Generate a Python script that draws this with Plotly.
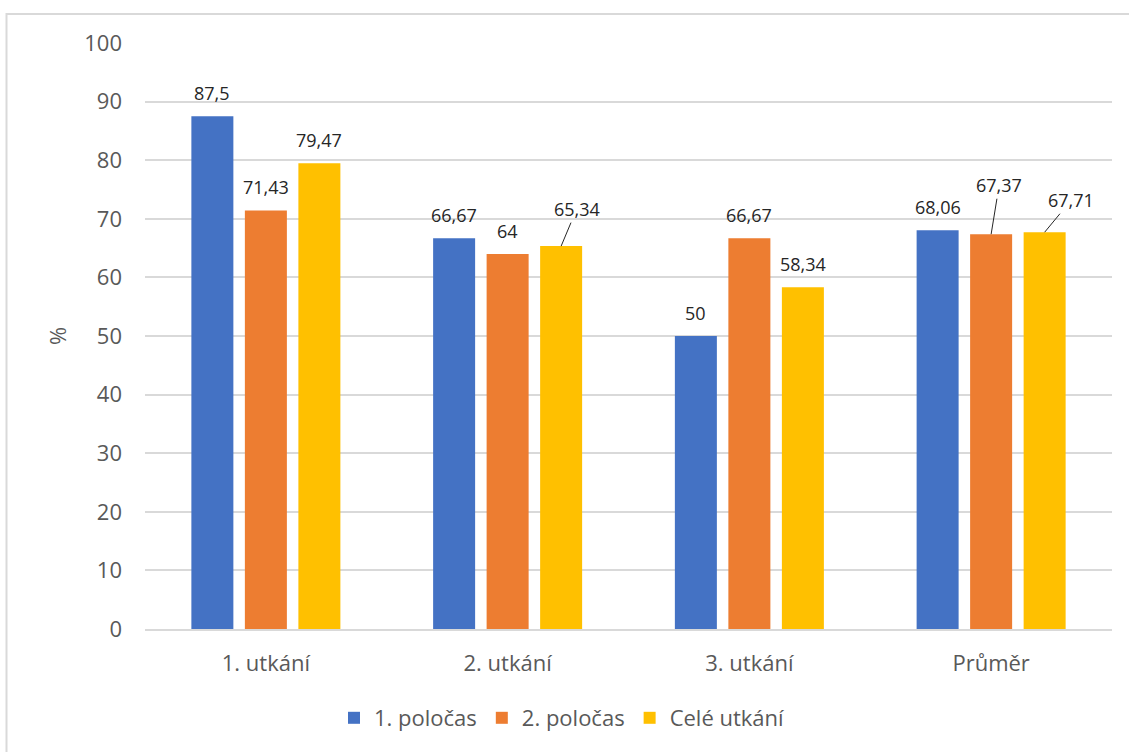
import plotly.graph_objects as go

# Match results (%), per half and whole match
categories = ["1. utkání", "2. utkání", "3. utkání", "Průměr"]
series_names = ["1. poločas", "2. poločas", "Celé utkání"]
first_half = [87.5, 66.67, 50, 68.06]
second_half = [71.43, 64, 66.67, 67.37]
whole_match = [79.47, 65.34, 58.34, 67.71]
y_ticks = [0, 10, 20, 30, 40, 50, 60, 70, 80, 90, 100]

colors = ["#4472C4", "#ED7D31", "#FFC000"]
series_values = [first_half, second_half, whole_match]

FONT = "Open Sans"
GRAY = "#595959"

# layout geometry (pixels)
W, H = 1129, 752
M_L, M_R, M_T, M_B = 145, 17, 43, 123
plot_w = W - M_L - M_R
plot_h = H - M_T - M_B
slot_px = 53.5          # distance between bar centres within a group

# labels moved off their bar and tied back with a leader line: (series, category) -> (dx, dy) px
leader_offsets = {
    (2, 1): (15.5, -37),
    (1, 3): (8, -49),
    (2, 3): (26.5, -32),
}


def fmt(v):
    return f"{v:g}".replace(".", ",")


fig = go.Figure()
for name, vals, col in zip(series_names, series_values, colors):
    fig.add_trace(go.Bar(
        name=name, x=categories, y=vals,
        marker=dict(color=col, line=dict(width=0)),
        hoverinfo="x+y",
    ))

annotations = []
for si, vals in enumerate(series_values):
    xshift = (si - 1) * slot_px
    for ci, v in enumerate(vals):
        if (si, ci) in leader_offsets:
            dx, dy = leader_offsets[(si, ci)]
            annotations.append(dict(
                x=categories[ci], y=v, xref="x", yref="y", xshift=xshift,
                text=fmt(v), showarrow=True, arrowhead=0, arrowwidth=1,
                arrowcolor="#262626", ax=dx, ay=dy, standoff=0, startstandoff=0,
                font=dict(family=FONT, size=18, color="#262626"),
            ))
        else:
            annotations.append(dict(
                x=categories[ci], y=v, xref="x", yref="y", xshift=xshift, yshift=23,
                text=fmt(v), showarrow=False, xanchor="center", yanchor="middle",
                font=dict(family=FONT, size=18, color="#262626"),
            ))

# chart border
px_x = lambda p: (p - M_L) / plot_w
px_y = lambda p: (H - M_B - p) / plot_h
shapes = [dict(
    type="rect", xref="paper", yref="paper",
    x0=px_x(6.5), x1=px_x(1140), y0=px_y(765), y1=px_y(14),
    line=dict(color="#D9D9D9", width=2), fillcolor="rgba(0,0,0,0)", layer="below",
)]

fig.update_layout(
    width=W, height=H,
    margin=dict(l=M_L, r=M_R, t=M_T, b=M_B, autoexpand=False),
    paper_bgcolor="white", plot_bgcolor="white",
    barmode="group", bargap=0.336, bargroupgap=0.215,
    font=dict(family=FONT, color=GRAY),
    showlegend=True,
    legend=dict(
        orientation="h", x=px_x(562), xanchor="center",
        y=px_y(718), yanchor="middle",
        font=dict(family=FONT, size=22, color=GRAY),
        itemwidth=30, tracegroupgap=0,
        bgcolor="rgba(0,0,0,0)",
    ),
    annotations=annotations,
    shapes=shapes,
)
fig.update_xaxes(
    type="category", showgrid=False, showline=True, linecolor="#D9D9D9", linewidth=1.5,
    ticks="", tickfont=dict(family=FONT, size=22, color=GRAY), ticklabelstandoff=14,
)
fig.update_yaxes(
    range=[0, 100], tickvals=y_ticks, showgrid=True, gridcolor="#D9D9D9", gridwidth=1.5,
    zeroline=False, showline=False, ticks="",
    tickfont=dict(family=FONT, size=22, color=GRAY), ticklabelstandoff=22,
    title=dict(text="%", font=dict(family=FONT, size=22, color=GRAY), standoff=11),
)

fig.write_html("out.html")
